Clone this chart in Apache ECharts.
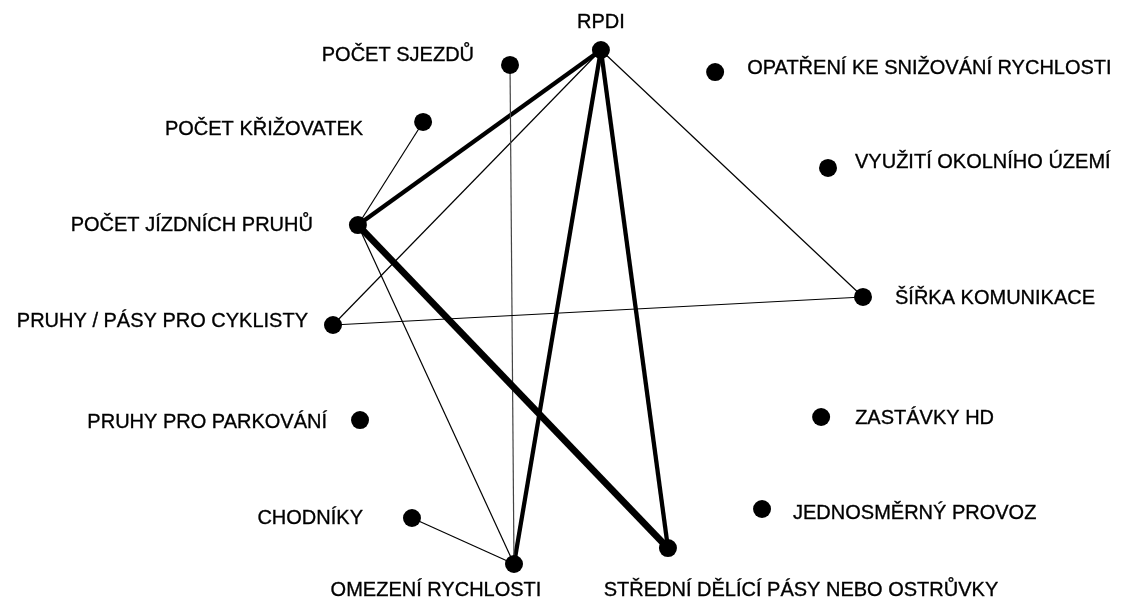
<html style="height: 100%">
	<head>
		<meta charset="utf-8">
	</head>
	<body style="height: 100%; width: 100%; margin: 0; background: #fff">
		<div id="container" style="height: 605px; width: 1132px;"></div>
		<script type="text/javascript" src="https://cdn.jsdelivr.net/npm/echarts@6/dist/echarts.min.js"></script>
		<script type="text/javascript">
			// uzly (kruhove rozlozeni, souradnice v jednotkach -100..100)
			var nodeNames = ['RPDI', 'OPATŘENÍ KE SNIŽOVÁNÍ RYCHLOSTI', 'VYUŽITÍ OKOLNÍHO ÚZEMÍ', 'ŠÍŘKA KOMUNIKACE',
				'ZASTÁVKY HD', 'JEDNOSMĚRNÝ PROVOZ', 'STŘEDNÍ DĚLÍCÍ PÁSY NEBO OSTRŮVKY', 'OMEZENÍ RYCHLOSTI',
				'CHODNÍKY', 'PRUHY PRO PARKOVÁNÍ', 'PRUHY / PÁSY PRO CYKLISTY', 'POČET JÍZDNÍCH PRUHŮ',
				'POČET KŘIŽOVATEK', 'POČET SJEZDŮ'
			];
			var nodeX = [1.1, 44.2, 86.8, 100, 84.2, 61.9, 26.4, -31.7, -70.2, -89.8, -100, -90.6, -66.0, -33.2];
			var nodeY = [100, 91.4, 54.1, 3.9, -42.8, -78.6, -93.8, -100, -82.1, -44.0, -7.0, 31.9, 72.0, 94.2];

			// vazby a jejich sila (1 slaba, 2 stredni, 3 silna)
			var linkSource = ['RPDI', 'RPDI', 'RPDI', 'RPDI', 'RPDI', 'POČET SJEZDŮ', 'POČET KŘIŽOVATEK',
				'POČET JÍZDNÍCH PRUHŮ', 'POČET JÍZDNÍCH PRUHŮ', 'PRUHY / PÁSY PRO CYKLISTY', 'CHODNÍKY'
			];
			var linkTarget = ['POČET JÍZDNÍCH PRUHŮ', 'PRUHY / PÁSY PRO CYKLISTY', 'OMEZENÍ RYCHLOSTI',
				'STŘEDNÍ DĚLÍCÍ PÁSY NEBO OSTRŮVKY', 'ŠÍŘKA KOMUNIKACE', 'OMEZENÍ RYCHLOSTI', 'POČET JÍZDNÍCH PRUHŮ',
				'STŘEDNÍ DĚLÍCÍ PÁSY NEBO OSTRŮVKY', 'OMEZENÍ RYCHLOSTI', 'ŠÍŘKA KOMUNIKACE', 'OMEZENÍ RYCHLOSTI'
			];
			var linkStrength = [2, 1, 2, 2, 1, 1, 1, 3, 1, 1, 1];

			// umisteni popisku u kazdeho uzlu
			var labelPlace = {
				'RPDI': ['center', [0, -28]],
				'OPATŘENÍ KE SNIŽOVÁNÍ RYCHLOSTI': ['left', [32, -4]],
				'VYUŽITÍ OKOLNÍHO ÚZEMÍ': ['left', [27, -5]],
				'ŠÍŘKA KOMUNIKACE': ['left', [32, 2]],
				'ZASTÁVKY HD': ['left', [34, 1]],
				'JEDNOSMĚRNÝ PROVOZ': ['left', [31, 4]],
				'STŘEDNÍ DĚLÍCÍ PÁSY NEBO OSTRŮVKY': ['center', [133, 42]],
				'OMEZENÍ RYCHLOSTI': ['center', [-78, 26]],
				'CHODNÍKY': ['right', [-49, 0]],
				'PRUHY PRO PARKOVÁNÍ': ['right', [-33, 2]],
				'PRUHY / PÁSY PRO CYKLISTY': ['right', [-25, -4]],
				'POČET JÍZDNÍCH PRUHŮ': ['right', [-45, 0]],
				'POČET KŘIŽOVATEK': ['right', [-60, 8]],
				'POČET SJEZDŮ': ['right', [-36, -9]]
			};
			var strengthWidth = {1: 1.2, 2: 4.3, 3: 6.8};

			var dom = document.getElementById("container");
			var myChart = echarts.init(dom);

			var nodes = [];
			for (var i = 0; i < nodeNames.length; i++) {
				var lp = labelPlace[nodeNames[i]];
				nodes.push({
					name: nodeNames[i],
					value: [nodeX[i], nodeY[i]],
					label: {
						position: 'inside',
						align: lp[0],
						verticalAlign: 'middle',
						offset: lp[1]
					}
				});
			}

			var links = [];
			for (var i = 0; i < linkSource.length; i++) {
				links.push({
					source: linkSource[i],
					target: linkTarget[i],
					value: linkStrength[i],
					lineStyle: {
						width: strengthWidth[linkStrength[i]],
						// svisla slaba vazba je v originale sedsi
						color: linkSource[i] == 'POČET SJEZDŮ' ? '#444' : '#000'
					}
				});
			}

			var option = {
				backgroundColor: '#ffffff',
				animation: false,
				grid: {
					left: 333,
					top: 50,
					width: 530,
					height: 514
				},
				xAxis: {
					type: 'value',
					min: -100,
					max: 100,
					show: false
				},
				yAxis: {
					type: 'value',
					min: -100,
					max: 100,
					show: false
				},
				series: [{
					type: 'graph',
					coordinateSystem: 'cartesian2d',
					layout: 'none',
					symbol: 'circle',
					symbolSize: 18,
					itemStyle: {
						color: '#000'
					},
					label: {
						show: true,
						color: '#000',
						fontFamily: 'Liberation Sans, Arial, sans-serif',
						fontSize: 20,
						textBorderColor: '#111',
						textBorderWidth: 0.35
					},
					lineStyle: {
						color: '#000',
						opacity: 1,
						curveness: 0
					},
					emphasis: {
						disabled: true
					},
					data: nodes,
					links: links
				}]
			};

			myChart.setOption(option);
		</script>
	</body>
</html>
